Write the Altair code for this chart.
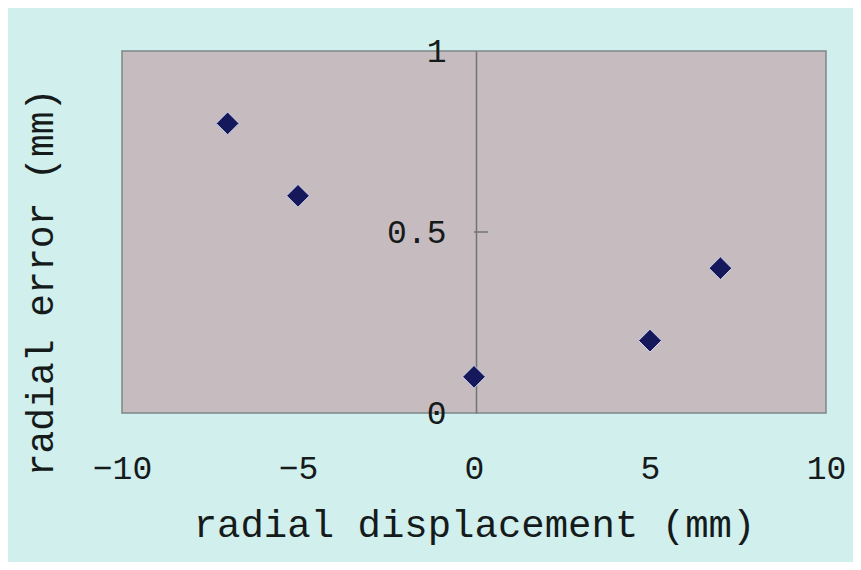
import altair as alt
import pandas as pd

displacement = [-7, -5, 0, 5, 7]
radial_error = [0.80, 0.60, 0.10, 0.20, 0.40]
x_ticks = [-10, -5, 0, 5, 10]
y_ticks = [0, 0.5, 1]

df = pd.DataFrame({"x": displacement, "y": radial_error})
tick_df = pd.DataFrame({"x": [0], "x2": [0.4], "y": [0.5]})

MONO = "Liberation Mono"
INK = "#151a1a"

xscale = alt.Scale(domain=[-10, 10], nice=False, zero=False)
yscale = alt.Scale(domain=[0, 1], nice=False, zero=False)

points = alt.Chart(df).mark_point(
    shape="diamond", filled=True, size=520, color="#16185c",
    stroke="#cfd6ea", strokeWidth=1, opacity=1
).encode(
    x=alt.X("x:Q", scale=xscale, axis=alt.Axis(
        values=x_ticks, ticks=False, domain=False, grid=False,
        labelFont=MONO, labelFontSize=33, labelColor=INK, labelPadding=39,
        labelFlush=False,
        title="radial displacement (mm)", titleFont=MONO, titleFontSize=39,
        titleFontWeight="normal", titleColor=INK, titlePadding=20)),
    y=alt.Y("y:Q", scale=yscale, axis=alt.Axis(
        values=y_ticks, format="~g", ticks=False, domain=True,
        domainColor="#6f7474", domainWidth=1.5, grid=False, offset=-354,
        labelFont=MONO, labelFontSize=33, labelColor=INK, labelPadding=30,
        labelFlush=False,
        title="radial error (mm)", titleFont=MONO, titleFontSize=38,
        titleFontWeight="normal", titleColor=INK,
        titleX=-416, titleY=231, titleAlign="center", titleAngle=270)),
)

tick = alt.Chart(tick_df).mark_rule(color="#6f7474", strokeWidth=1.5).encode(
    x=alt.X("x:Q", scale=xscale), x2="x2:Q", y=alt.Y("y:Q", scale=yscale)
)

chart = alt.layer(tick, points).properties(
    width=704, height=362,
    autosize=alt.AutoSizeParams(type="none"),
    padding={"left": 114, "top": 43, "right": 27, "bottom": 149},
    background="#d0efed",
).configure_view(
    fill="#c6bcc0", stroke="#7d8686", strokeWidth=1.5
)

chart.save("out.html", embed_options={"renderer": "svg", "actions": False})
